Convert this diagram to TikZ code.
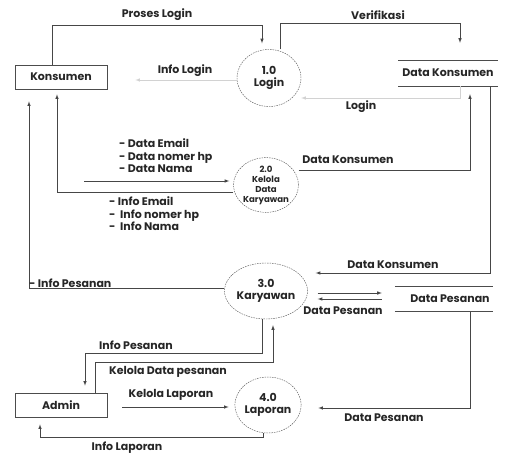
\documentclass[tikz,border=0pt]{standalone}
\usepackage{fontspec}
\setmainfont{Poppins}
\usetikzlibrary{arrows,shapes,positioning}

\newcommand\dfdfont{\fontsize{11}{12.5}\selectfont\bfseries}
\newcommand\dfdsmall{\fontsize{8.6}{10}\selectfont\bfseries}

\tikzset{
  entity/.style={draw=gray!60!black, line width=0.6pt, minimum width=92pt,
    minimum height=24pt, font=\dfdfont, text=black!85},
  proc/.style={ellipse, draw=gray!70!black, dash pattern=on 1.5pt off 1pt,
    line width=0.45pt, align=center, inner sep=0pt, font=\dfdfont, text=black!85},
  store/.style={minimum width=99pt, minimum height=26pt, font=\dfdfont, text=black!85},
  storeline/.style={draw=gray!60!black, line width=0.6pt},
  flow/.style={->, >=latex, draw=gray!55!black, line width=0.6pt},
  faint/.style={flow, draw=gray!35},
  lbl/.style={font=\dfdfont, text=black!85, inner sep=1pt},
  lst/.style={lbl, align=left, anchor=west}
}

\begin{document}
\begin{tikzpicture}[x=1pt,y=-1pt]
  \useasboundingbox (0,0) rectangle (506,455);

  % terminators
  \node[entity] (konsumen) at (61,77) {Konsumen};
  \node[entity] (admin) at (61,405) {Admin};

  % processes
  \node[proc, minimum width=64pt, minimum height=57pt] (login) at (269,78) {1.0\\Login};
  \node[proc, minimum width=65pt, minimum height=51pt, font=\dfdsmall] (kelola) at (266,185) {2.0\\Kelola\\Data\\Karyawan};
  \node[proc, minimum width=68pt, minimum height=56pt] (karyawan) at (266,291) {3.0\\Karyawan};
  \node[proc, minimum width=66pt, minimum height=56pt] (laporan) at (268,405) {4.0\\Laporan};

  % data stores
  \node[store] (dkons) at (448,73) {Data Konsumen};
  \draw[storeline] (dkons.north west) -- (dkons.north east)
                   (dkons.south west) -- (dkons.south east);
  \node[store, minimum width=92pt, minimum height=25pt] (dpes) at (444,299) {\hspace*{12pt}Data Pesanan};
  \draw[storeline] (dpes.north west) -- (dpes.north east)
                   (dpes.south west) -- (dpes.south east);

  % flows
  \draw[flow, shorten >=6pt] ([xshift=-9pt]konsumen.north) |- (262,25) -- ([xshift=-7pt]login.north);
  \draw[flow, shorten >=17pt] ([xshift=11pt]login.north) |- (460,23) -- (dkons.north -| 460,0);
  \draw[faint, shorten >=28pt] (login.west |- 0,80) -- (konsumen.east |- 0,80);
  \draw[faint] (dkons.south -| 460,0) |- (login.east |- 0,98);
  \draw[flow, shorten >=8pt] (kelola.east |- 0,170) -| ([xshift=22pt]dkons.south);
  \draw[flow, shorten >=8pt] ([xshift=42pt]dkons.south) |- (karyawan.east |- 0,273);

  \coordinate (dsrc) at (84,181);
  \draw[flow, shorten >=4pt] (dsrc) -- (kelola.west |- dsrc);
  \draw[flow, shorten >=5pt] (kelola.west |- 0,192) -| ([xshift=-4pt]konsumen.south);
  \draw[flow, shorten >=12pt] (karyawan.west |- 0,288) -| ([xshift=-32pt]konsumen.south);

  \draw[flow] ([xshift=10pt]karyawan.east |- 0,293) -- ([xshift=-13pt]dpes.west |- 0,293);
  \draw[flow] ([xshift=-13pt]dpes.west |- 0,299) -- ([xshift=10pt]karyawan.east |- 0,299);
  \draw[flow] ([xshift=26pt]dpes.south) |- ([xshift=17pt]laporan.east |- 0,408);

  \draw[flow, shorten >=7pt] ([xshift=-4pt]karyawan.south) |- (85,353) -- ([xshift=24pt]admin.north);
  \draw[flow, shorten >=6pt] ([xshift=34pt]admin.north) |- (273,362) -- ([xshift=7pt]karyawan.south);
  \draw[flow] ([xshift=15pt]admin.east |- 0,407) -- ([xshift=-6pt]laporan.west |- 0,407);
  \draw[flow, shorten >=7pt] ([xshift=-5pt]laporan.south) |- (40,437) -- ([xshift=-21pt]admin.south);

  % labels
  \node[lbl] (lproses) at (157,15) {Proses Login};
  \node[lbl] (lverif) at (378,15) {Verifikasi};
  \node[lbl] (linfologin) at (185,71) {Info Login};
  \node[lbl] (llogin) at (361,107) {Login};
  \node[lbl] (ldkons1) at (348,160) {Data Konsumen};
  \node[lbl] (ldkons2) at (393,265) {Data Konsumen};
  \node[lst] (ldata) at (118,156) {- Data Email\\- Data nomer hp\\- Data Nama};
  \node[lst] (linfo) at (108,214) {- Info Email\\-\ \ Info nomer hp\\-\ \ Info Nama};
  \node[lst] (linfopes) at (28,283) {- Info Pesanan};
  \node[lbl] (ldpes1) at (343,311) {Data Pesanan};
  \node[lbl] (linfopes2) at (136,345) {Info Pesanan};
  \node[lbl] (lkeloladp) at (168,372) {Kelola Data pesanan};
  \node[lbl] (lkelolalap) at (171,395) {Kelola Laporan};
  \node[lbl] (ldpes2) at (384,418) {Data Pesanan};
  \node[lbl] (linfolap) at (127,448) {Info Laporan};
\end{tikzpicture}
\end{document}
